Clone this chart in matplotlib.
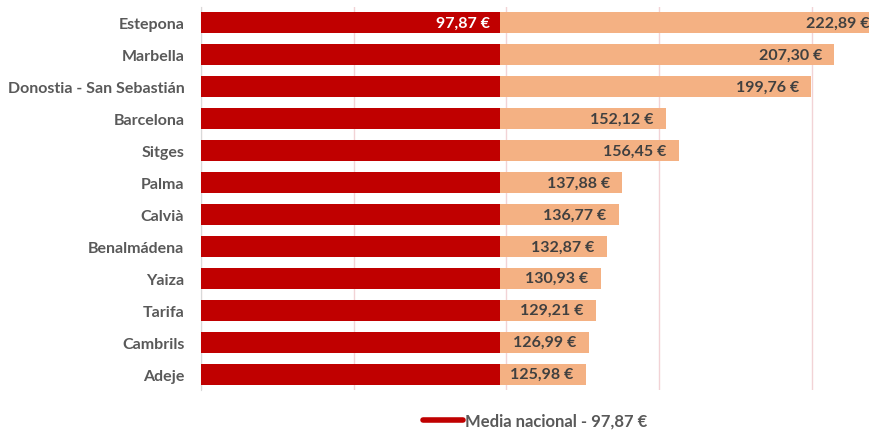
import numpy as np
import matplotlib.pyplot as plt
from matplotlib.lines import Line2D

# datos
municipios = ["Estepona", "Marbella", "Donostia - San Sebastián", "Barcelona",
              "Sitges", "Palma", "Calvià", "Benalmádena", "Yaiza", "Tarifa",
              "Cambrils", "Adeje"]
precios = [222.89, 207.30, 199.76, 152.12, 156.45, 137.88, 136.77, 132.87,
           130.93, 129.21, 126.99, 125.98]
media_nacional = 97.87

rojo = "#C00000"
naranja = "#F4B183"
gris = "#595959"

plt.rcParams['font.family'] = ['Lato', 'DejaVu Sans']

fig = plt.figure(figsize=(8.7, 4.31), dpi=100)
# 0 at x=201px, 3.055 px per unit, bars run past the right edge
ax = fig.add_axes([201/870, 1-391/431, 225*3.055/870, (391-8)/431])

y = np.arange(len(municipios))
ax.barh(y, precios, height=0.66, color=naranja, zorder=2)
ax.barh(y, [media_nacional]*len(y), height=0.66, color=rojo, zorder=3)

# etiquetas
def fmt(v):
    return f"{v:.2f}".replace(".", ",") + " €"

for i, v in enumerate(precios):
    ax.annotate(fmt(v), (v, i), xytext=(-9, 0), textcoords="offset points",
                ha="right", va="center", fontsize=11.5, fontweight="bold",
                color="#404040", zorder=4)
ax.annotate(fmt(media_nacional), (media_nacional, 0), xytext=(-7, 0),
            textcoords="offset points", ha="right", va="center", fontsize=11.5,
            fontweight="bold", color="white", zorder=4)

ax.set_xlim(0, 225)
ax.set_ylim(len(y) - 0.5, -0.5)
ax.set_xticks([0, 50, 100, 150, 200])
ax.set_xticklabels([])
ax.tick_params(axis="x", length=0)
ax.tick_params(axis="y", length=0, pad=12)
ax.set_yticks(y)
ax.set_yticklabels(municipios, fontsize=11.5, fontweight="bold", color=gris)
ax.grid(axis="x", color="#F2D3D6", linewidth=1, zorder=0)
for s in ["top", "right", "bottom"]:
    ax.spines[s].set_visible(False)
ax.spines["left"].set_color("#D9D9D9")

handle = Line2D([0], [0], color=rojo, linewidth=4, solid_capstyle="round")
fig.legend([handle], ["Media nacional - 97,87 €"], loc="center",
           bbox_to_anchor=(535/870, 1-422/431), frameon=False, handlelength=2.4,
           handletextpad=0.1, prop={"size": 12, "weight": "bold"}, labelcolor=gris)

fig.savefig("out.png", dpi=100)
